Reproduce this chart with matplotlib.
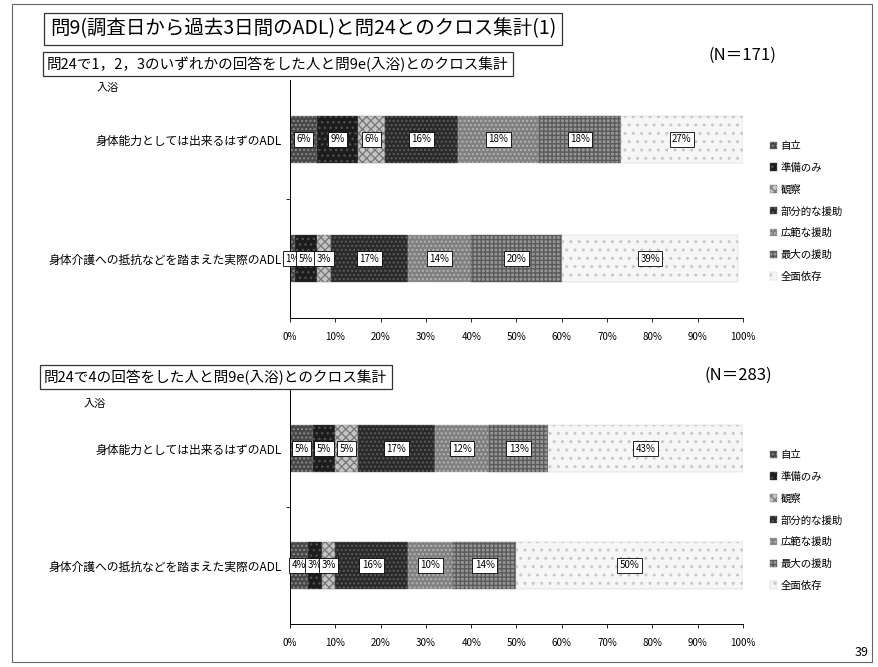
import matplotlib
matplotlib.use('Agg')
import matplotlib.pyplot as plt
from matplotlib.patches import Patch, Rectangle

plt.rcParams['font.family'] = ['Noto Sans CJK JP', 'DejaVu Sans']

# response levels (stack order, left to right)
levels = ['自立', '準備のみ', '観察', '部分的な援助', '広範な援助', '最大の援助', '全面依存']
categories = ['身体能力としては出来るはずのADL', '身体介護への抵抗などを踏まえた実際のADL']

# 問24 で 1,2,3 と回答 (N=171)
upper_able = [6, 9, 6, 16, 18, 18, 27]
upper_actual = [1, 5, 3, 17, 14, 20, 39]

# 問24 で 4 と回答 (N=283)
lower_able = [5, 5, 5, 17, 12, 13, 43]
lower_actual = [4, 3, 3, 16, 10, 14, 50]

xticks = [0, 10, 20, 30, 40, 50, 60, 70, 80, 90, 100]

# grey fills with a light texture, like the printed patterns
faces = ['#474747', '#1c1c1c', '#c4c4c4', '#2a2a2a', '#808080', '#969696', '#f6f6f6']
hatch_cols = ['#8a8a8a', '#505050', '#7a7a7a', '#5c5c5c', '#b5b5b5', '#5a5a5a', '#c8c8c8']
hatches = ['....', '...', 'xxxx', '....', '....', '++++', '..']

fig = plt.figure(figsize=(8.79, 6.67), dpi=100)
W, H = 879, 667


def px(x, y):
    return x / W, 1 - y / H


def draw_panel(rect, rows):
    ax = fig.add_axes(rect)
    left = [0.0] * len(rows)
    for k, name in enumerate(levels):
        vals = [r[k] for r in rows]
        bars = ax.barh(range(len(rows)), vals, left=left, height=0.4,
                       color=faces[k], edgecolor=hatch_cols[k], hatch=hatches[k],
                       linewidth=0.3, label=name)
        for b, v in zip(bars, vals):
            ax.text(b.get_x() + b.get_width() / 2, b.get_y() + b.get_height() / 2,
                    f'{v}%', ha='center', va='center', fontsize=7,
                    bbox=dict(boxstyle='square,pad=0.25', fc='white', ec='black', lw=0.6))
        left = [l + v for l, v in zip(left, vals)]
    ax.set_xlim(0, 100)
    ax.set_ylim(1.5, -0.5)
    ax.set_xticks(xticks)
    ax.set_xticklabels([f'{t}%' for t in xticks], fontsize=7)
    ax.tick_params(axis='x', length=3, width=0.6, pad=7)
    ax.set_yticks([0, 1])
    ax.set_yticklabels(categories, fontsize=8.5)
    ax.tick_params(axis='y', length=0, pad=6)
    ax.set_yticks([0.5], minor=True)
    ax.tick_params(axis='y', which='minor', length=3, width=0.6)
    for s in ['top', 'right']:
        ax.spines[s].set_visible(False)
    for s in ['left', 'bottom']:
        ax.spines[s].set_linewidth(0.7)
    return ax


ax1 = draw_panel([290 / W, 1 - 318 / H, 453 / W, 238 / H], [upper_able, upper_actual])
ax2 = draw_panel([290 / W, 1 - 624 / H, 453 / W, 234 / H], [lower_able, lower_actual])

handles = [Patch(facecolor=faces[k], edgecolor=hatch_cols[k], hatch=hatches[k],
                 linewidth=0.3, label=levels[k]) for k in range(len(levels))]
for top in (141, 450):
    fig.legend(handles=handles, loc='upper left', bbox_to_anchor=px(770, top),
               frameon=False, fontsize=7.5, handlelength=0.7, handleheight=0.7,
               handletextpad=0.3, labelspacing=1.12, borderpad=0, borderaxespad=0)

# page frame
fig.patches.append(Rectangle(px(12, 662), 860 / W, 658 / H, transform=fig.transFigure,
                             fill=False, ec='#666666', lw=0.8))

box = dict(boxstyle='square,pad=0.3', fc='white', ec='#333333', lw=0.9)
fig.text(*px(50, 29), '問9(調査日から過去3日間のADL)と問24とのクロス集計(1)',
         fontsize=14, va='center', ha='left', bbox=box)
fig.text(*px(47, 64), '問24で1，2，3のいずれかの回答をした人と問9e(入浴)とのクロス集計',
         fontsize=10.5, va='center', ha='left', bbox=box)
fig.text(*px(44, 377), '問24で4の回答をした人と問9e(入浴)とのクロス集計',
         fontsize=10.5, va='center', ha='left', bbox=box)

fig.text(*px(108, 88), '入浴', fontsize=8, ha='center', va='center')
fig.text(*px(95, 404), '入浴', fontsize=8, ha='center', va='center')

fig.text(*px(742, 55), '(N＝171)', fontsize=12, ha='center', va='center')
fig.text(*px(738, 375), '(N＝283)', fontsize=12, ha='center', va='center')

fig.text(*px(862, 652), '39', fontsize=9, ha='center', va='center')

fig.savefig('out.png', dpi=100)
